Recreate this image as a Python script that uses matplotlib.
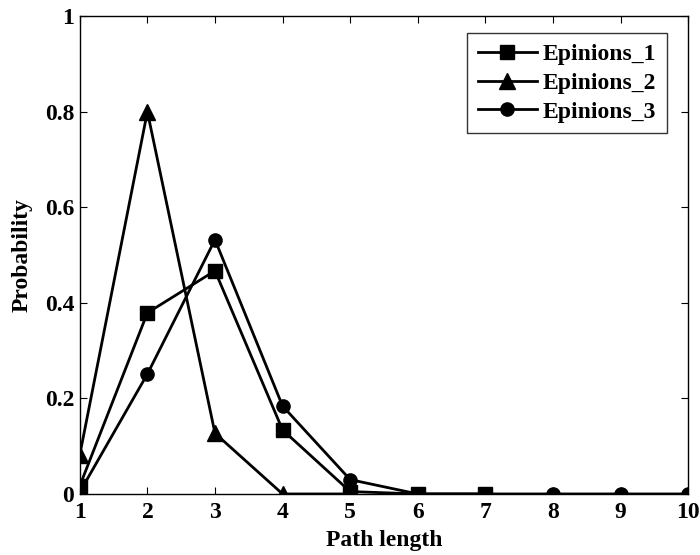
import matplotlib
matplotlib.use("Agg")
import matplotlib.pyplot as plt

x1 = [1, 2, 3, 4, 5, 6, 7]
e1 = [0.017, 0.379, 0.467, 0.134, 0.005, 0.0, 0.0]
x2 = [1, 2, 3, 4, 5]
e2 = [0.082, 0.80, 0.127, 0.0, 0.0]
x3 = [1, 2, 3, 4, 5, 6, 7, 8, 9, 10]
e3 = [0.004, 0.251, 0.532, 0.184, 0.030, 0.0, 0.0, 0.0, 0.0, 0.0]
labels = ["Epinions_1", "Epinions_2", "Epinions_3"]
xticks = [1, 2, 3, 4, 5, 6, 7, 8, 9, 10]
yticks = [0, 0.2, 0.4, 0.6, 0.8, 1]
yticklabels = ["0", "0.2", "0.4", "0.6", "0.8", "1"]

plt.rcParams['font.family'] = ['Liberation Serif', 'DejaVu Serif']
plt.rcParams['font.weight'] = 'bold'

fig = plt.figure(figsize=(7, 5.55), dpi=100)
ax = fig.add_axes([0.114, 0.110, 0.869, 0.861])

ax.plot(x3, e3, color='black', lw=2, marker='o', ms=9.5, label=labels[2], zorder=3)
ax.plot(x2, e2, color='black', lw=2, marker='^', ms=12, label=labels[1], zorder=4)
ax.plot(x1, e1, color='black', lw=2, marker='s', ms=9.5, label=labels[0], zorder=5)

ax.set_xlim(1, 10)
ax.set_ylim(0, 1)
ax.set_xticks(xticks)
ax.set_yticks(yticks)
ax.set_yticklabels(yticklabels)
ax.tick_params(axis='both', direction='in', top=True, right=True, labelsize=17, length=5)
ax.tick_params(axis='x', pad=6)
ax.tick_params(axis='y', pad=4)
for lab in ax.get_xticklabels() + ax.get_yticklabels():
    lab.set_fontweight('bold')
for s in ax.spines.values():
    s.set_linewidth(1)

ax.set_xlabel("Path length", fontsize=17, fontweight='bold', labelpad=5)
ax.set_ylabel("Probability", fontsize=17, fontweight='bold', labelpad=9)

h, l = ax.get_legend_handles_labels()
order = [2, 1, 0]
leg = ax.legend([h[i] for i in order], [l[i] for i in order], loc='upper right',
                bbox_to_anchor=(0.965, 0.964), borderaxespad=0, fontsize=17, frameon=True,
                fancybox=False, edgecolor='black', handlelength=2.5,
                borderpad=0.45, labelspacing=0.3, handletextpad=0.25)
leg.get_frame().set_linewidth(1)
for t in leg.get_texts():
    t.set_fontweight('bold')

fig.savefig("out.png", dpi=100)
